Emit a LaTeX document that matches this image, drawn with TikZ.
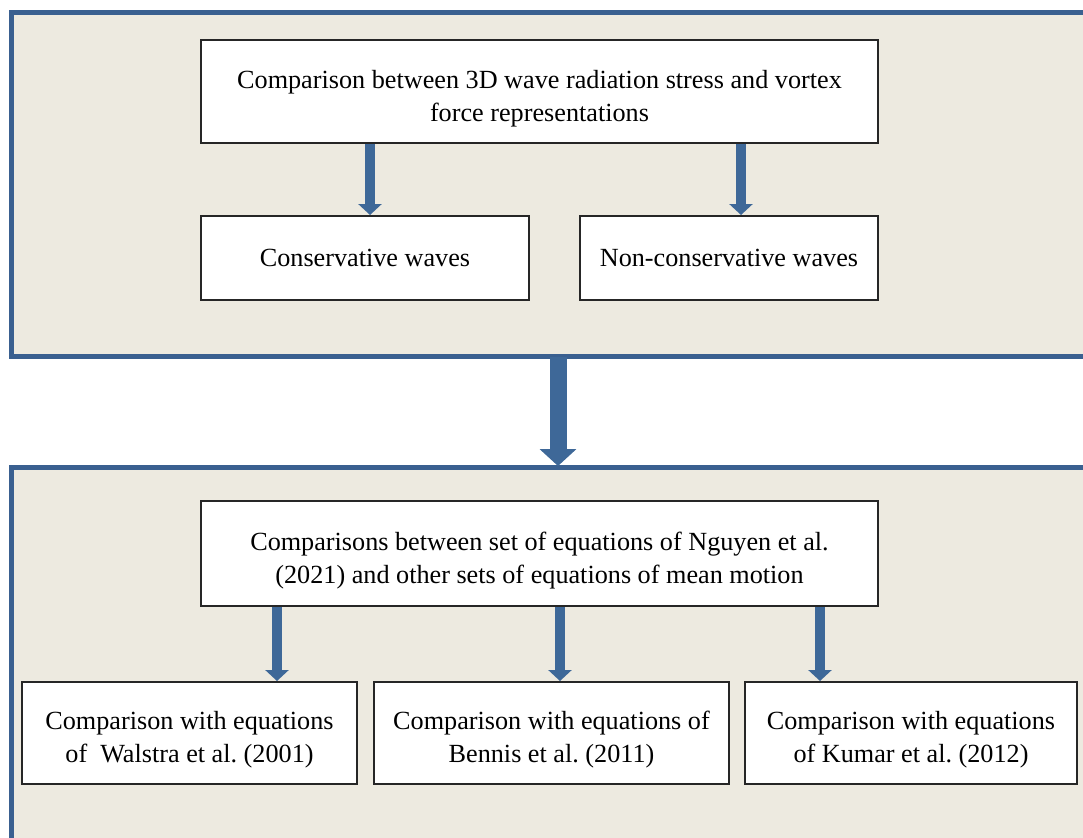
\documentclass[tikz,border=0pt]{standalone}
\usepackage{fontspec}
\setmainfont{Liberation Serif}
\usetikzlibrary{arrows.meta}
\frenchspacing

\definecolor{panelfill}{RGB}{237,234,224}
\definecolor{paneledge}{RGB}{58,96,144}
\definecolor{arrowblue}{RGB}{62,104,152}

\tikzset{
    box/.style={draw=black!85, fill=white, line width=1pt, align=center, inner sep=0pt,
        font=\fontsize{13.1}{16.5}\selectfont},
    twoline/.style={box, text height=32.5pt},
    panel/.style={draw=paneledge, fill=panelfill, line width=2.5pt},
    smallarrow/.style={draw=arrowblue, line width=5pt, -{Triangle[width=11.5pt, length=5.5pt]}},
    bigarrow/.style={draw=arrowblue, line width=8.5pt, -{Triangle[width=18pt, length=8.5pt]}}
}

\begin{document}
\begin{tikzpicture}[x=0.5pt, y=-0.5pt]
    \useasboundingbox (0,0) rectangle (1083,837);
    \clip (0,0) rectangle (1083,837);

    % Panels (run past the right and bottom edges)
    \draw[panel] (11.5,12.5) rectangle (1110,356);
    \draw[panel] (11.5,467) rectangle (1110,870);
    \coordinate (upperedge) at (558,357);
    \coordinate (loweredge) at (558,466);

    % Upper panel
    \node[twoline, minimum width=338.5pt, minimum height=51.5pt] (repr) at (539.5,91.5)
        {Comparison between 3D wave radiation stress and vortex\\force representations};
    \node[box, minimum width=164pt, minimum height=42pt] (cons) at (365,258) {Conservative waves};
    \node[box, minimum width=149pt, minimum height=42pt] (noncons) at (729,258) {Non-conservative waves};

    \draw[smallarrow] ([xshift=2.5pt]cons.north |- repr.south) -- ([xshift=2.5pt]cons.north);
    \draw[smallarrow] ([xshift=6pt]noncons.north |- repr.south) -- ([xshift=6pt]noncons.north);

    % Between the panels
    \draw[bigarrow] (upperedge) -- (loweredge);

    % Lower panel
    \node[twoline, minimum width=338.5pt, minimum height=52.5pt] (nguyen) at (539.5,553.5)
        {Comparisons between set of equations of Nguyen et al.\\(2021) and other sets of equations of mean motion};
    \node[twoline, minimum width=167.5pt, minimum height=51pt] (walstra) at (189.5,733)
        {Comparison with equations\\of \ Walstra et al. (2001)};
    \node[twoline, minimum width=177.5pt, minimum height=51pt] (bennis) at (551.5,733)
        {Comparison with equations of\\Bennis et al. (2011)};
    \node[twoline, minimum width=166pt, minimum height=51pt] (kumar) at (911,733)
        {Comparison with equations\\of Kumar et al. (2012)};

    \draw[smallarrow] ([xshift=43.75pt]walstra.north |- nguyen.south) -- ([xshift=43.75pt]walstra.north);
    \draw[smallarrow] ([xshift=4.25pt]bennis.north |- nguyen.south) -- ([xshift=4.25pt]bennis.north);
    \draw[smallarrow] ([xshift=-45.5pt]kumar.north |- nguyen.south) -- ([xshift=-45.5pt]kumar.north);
\end{tikzpicture}
\end{document}
